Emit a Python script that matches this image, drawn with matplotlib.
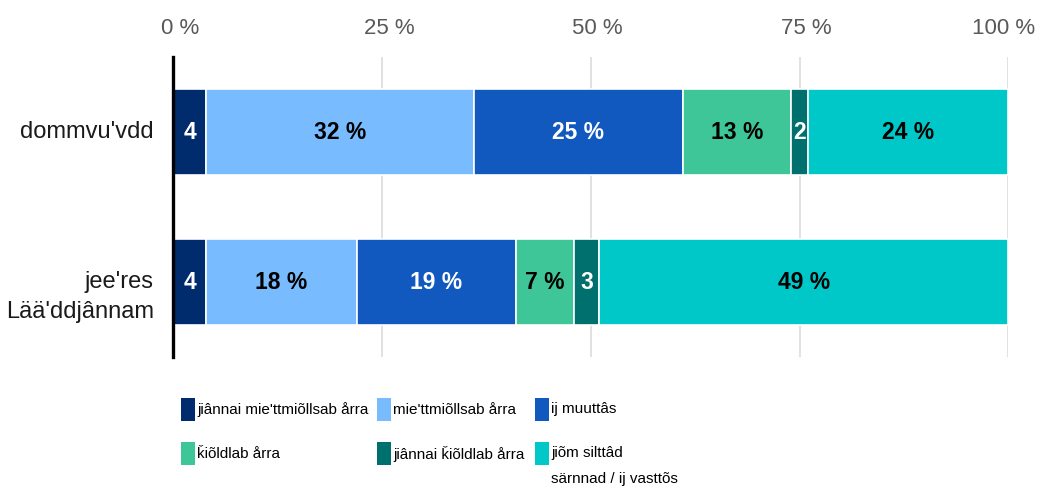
import matplotlib
matplotlib.use("Agg")
import matplotlib.pyplot as plt
from matplotlib.patches import Rectangle
from matplotlib.transforms import blended_transform_factory, ScaledTranslation

# data
ryhmat = ["dommvu'vdd", "jee'res\nLää'ddjânnam"]
vastaukset = ["jiânnai mie'ttmiõllsab årra", "mie'ttmiõllsab årra", "ij muuttâs",
              "ǩiõldlab årra", "jiânnai ǩiõldlab årra", "jiõm silttâd\nsärnnad / ij vasttõs"]
arvot = [
    [4, 32, 25, 13, 2, 24],
    [4, 18, 19, 7, 3, 49],
]
xticks = [0, 25, 50, 75, 100]
xticklabels = ["0 %", "25 %", "50 %", "75 %", "100 %"]

varit = ["#002b6c", "#78bcff", "#1259bf", "#3ec698", "#00706e", "#00c8c8"]
tekstivarit = ["white", "black", "white", "black", "white", "black"]

plt.rcParams['font.family'] = ['Liberation Sans', 'DejaVu Sans']

fig = plt.figure(figsize=(10.37, 4.91), dpi=100)
ax = fig.add_axes([0.1668, 0.2729, 0.8057, 0.611])

for i, rivi in enumerate(arvot):
    vasen = 0
    for j, v in enumerate(rivi):
        ax.barh(i, v, left=vasen, height=0.573, color=varit[j],
                edgecolor='white', linewidth=1.2, zorder=2)
        teksti = f"{v} %" if v >= 5 else f"{v}"
        ax.text(vasen + v / 2, i, teksti, ha='center', va='center',
                fontsize=16.5, fontweight='bold', color=tekstivarit[j], zorder=3)
        vasen += v

ax.set_xlim(0, 100)
ax.set_ylim(1.5, -0.5)
ax.set_yticks([])
ax.set_xticks(xticks)
ax.set_xticklabels(xticklabels, fontsize=16, color='#595959')
ax.xaxis.tick_top()
ax.tick_params(axis='x', length=0, pad=13)
# labels sit slightly right of the gridlines, last one pulled inside
siirrot = [7, 7, 7, 7, -5]
for lab, dx in zip(ax.get_xticklabels(), siirrot):
    lab.set_transform(lab.get_transform() + ScaledTranslation(dx / 100, 0, fig.dpi_scale_trans))
ax.grid(axis='x', color='#d9d9d9', linewidth=1.1)
ax.set_axisbelow(True)
for s in ['top', 'right', 'bottom']:
    ax.spines[s].set_visible(False)
ax.spines['left'].set_linewidth(2.4)
ax.spines['left'].set_color('black')
ax.spines['left'].set_zorder(4)

# ryhmien nimet
trans = blended_transform_factory(ax.transAxes, ax.transData)
for i, nimi in enumerate(ryhmat):
    for k, rivi in enumerate(nimi.split('\n')):
        ax.text(-0.023, i + k * 0.2, rivi, transform=trans, ha='right', va='center',
                fontsize=17, color='#1a1a1a')

# selite
W, H = 1037, 491
sarakkeet = [181, 377, 535]
rivit = [409.5, 453.5]
for n, nimi in enumerate(vastaukset):
    x = sarakkeet[n % 3]
    y = rivit[n // 3]
    fig.patches.append(Rectangle((x / W, 1 - (y + 11.5) / H), 14 / W, 23 / H,
                                 transform=fig.transFigure, facecolor=varit[n],
                                 edgecolor='none'))
    for k, rivi in enumerate(nimi.split('\n')):
        fig.text((x + 16) / W, 1 - (y + k * 26) / H, rivi, ha='left', va='center',
                 fontsize=11, color='black')

fig.savefig("out.png", dpi=100)
